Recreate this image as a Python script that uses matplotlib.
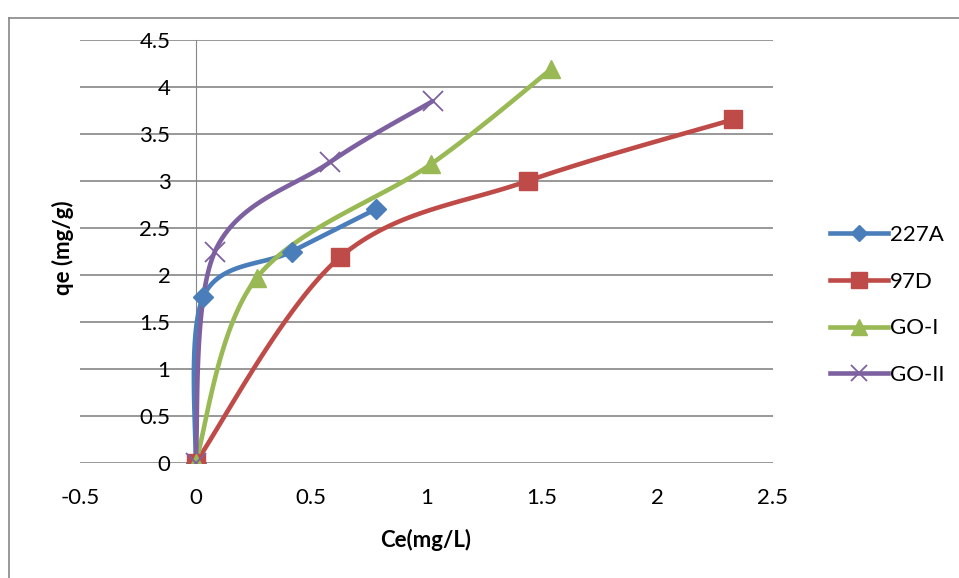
import numpy as np
import matplotlib.pyplot as plt
from matplotlib.lines import Line2D

plt.rcParams['font.family'] = ['Lato', 'DejaVu Sans']

# dane
names = ['227A', '97D', 'GO-I', 'GO-II']
x_227a = [0, 0.034, 0.417, 0.78]
y_227a = [0, 1.77, 2.25, 2.70]
x_97d = [0, 0.626, 1.438, 2.328]
y_97d = [0, 2.19, 3.0, 3.655]
x_go1 = [0, 0.265, 1.02, 1.54]
y_go1 = [0, 1.97, 3.18, 4.19]
x_go2 = [0, 0.084, 0.582, 1.027]
y_go2 = [0, 2.25, 3.2, 3.85]

colors = ['#4A7EBB', '#BE4B48', '#98B954', '#7D60A0']
markers = ['D', 's', '^', 'x']
msizes = [10, 13, 13, 14]


def smooth(xs, ys, n=40):
    # wygladzanie jak w excelu (bezier z punktow sasiednich)
    p = np.column_stack([xs, ys]).astype(float)
    pts = []
    m = len(p)
    for i in range(m - 1):
        p0 = p[i - 1] if i > 0 else p[i]
        p3 = p[i + 2] if i + 2 < m else p[i + 1]
        c1 = p[i] + (p[i + 1] - p0) / 6
        c2 = p[i + 1] - (p3 - p[i]) / 6
        t = np.linspace(0, 1, n)[:, None]
        seg = ((1 - t) ** 3 * p[i] + 3 * (1 - t) ** 2 * t * c1
               + 3 * (1 - t) * t ** 2 * c2 + t ** 3 * p[i + 1])
        pts.append(seg)
    pts = np.vstack(pts)
    return pts[:, 0], pts[:, 1]


W, H = 959, 578
fig = plt.figure(figsize=(W / 100, H / 100), dpi=100)
ax = fig.add_axes([80 / W, 1 - 463 / H, (773 - 80) / W, (463 - 40) / H])

series = [(x_227a, y_227a), (x_97d, y_97d), (x_go1, y_go1), (x_go2, y_go2)]
for (xs, ys), c, mk, ms in zip(series, colors, markers, msizes):
    sx, sy = smooth(xs, ys)
    ax.plot(sx, sy, color=c, lw=3.3, solid_capstyle='round', zorder=3)
    mew = 1.3 if mk == 'x' else 1
    ax.plot(xs, ys, ls='none', marker=mk, ms=ms, color=c, mec=c, mew=mew, zorder=4)

ax.set_xlim(-0.5, 2.5)
ax.set_ylim(0, 4.5)
ax.set_xticks(np.arange(-0.5, 2.51, 0.5))
ax.set_yticks(np.arange(0, 4.51, 0.5))
ax.set_xticklabels(['-0.5', '0', '0.5', '1', '1.5', '2', '2.5'])
ax.set_yticklabels(['0', '0.5', '1', '1.5', '2', '2.5', '3', '3.5', '4', '4.5'])
ax.yaxis.grid(True, color='#868686', lw=1.2)
ax.set_axisbelow(True)
for s in ['top', 'right', 'bottom']:
    ax.spines[s].set_visible(False)
ax.spines['left'].set_position(('data', 0))
ax.spines['left'].set_color('#868686')
ax.tick_params(axis='both', length=0, labelsize=16)
ax.tick_params(axis='x', pad=18)
ax.tick_params(axis='y', pad=18)
ax.patch.set_alpha(0)

fig.text(426 / W, 1 - 540 / H, 'Ce(mg/L)', ha='center', va='center',
         fontsize=16, fontweight='bold')
fig.text(63 / W, 1 - 248 / H, 'qe (mg/g)', ha='center', va='center',
         rotation=90, fontsize=16, fontweight='bold')

# legenda
handles = [Line2D([], [], color=c, lw=3.3, marker=mk, ms=ms * 0.85, mec=c,
                  mew=1.3 if mk == 'x' else 1)
           for c, mk, ms in zip(colors, markers, msizes)]
fig.legend(handles, names, loc='center left', bbox_to_anchor=(810 / W, 1 - 305 / H),
           frameon=False, fontsize=16, handlelength=2.6, handletextpad=0.1,
           labelspacing=1.2, numpoints=1)

# ramka wykresu
fig.add_artist(Line2D([9 / W, 9 / W], [0, 1 - 18 / H], color='#868686', lw=1.2))
fig.add_artist(Line2D([9 / W, 1], [1 - 18 / H, 1 - 18 / H], color='#868686', lw=1.2))

fig.savefig('out.png', dpi=100)
